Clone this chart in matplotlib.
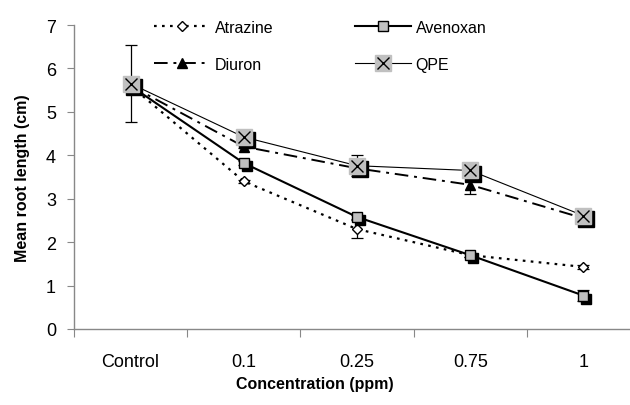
import matplotlib
matplotlib.use("Agg")
import matplotlib.pyplot as plt
import matplotlib.transforms as mtransforms
from matplotlib.legend_handler import HandlerTuple
import numpy as np

plt.rcParams["font.family"] = ["Liberation Sans", "DejaVu Sans"]

# categories and values
categories = ["Control", "0.1", "0.25", "0.75", "1"]
atrazine = [5.6, 3.4, 2.3, 1.7, 1.43]
avenoxan = [5.6, 3.82, 2.58, 1.7, 0.77]
diuron = [5.6, 4.2, 3.7, 3.32, 2.55]
qpe = [5.65, 4.42, 3.76, 3.65, 2.61]

# standard errors (only the visible ones)
atrazine_err = [0.0, 0.04, 0.2, 0.04, 0.05]
avenoxan_err = [0.0, 0.04, 0.05, 0.04, 0.13]
diuron_err = [0.0, 0.04, 0.08, 0.22, 0.04]
qpe_err = [0.88, 0.04, 0.24, 0.04, 0.04]

fig = plt.figure(figsize=(6.3, 4.06), dpi=100)
ax = fig.add_axes([74 / 630, 1 - 330 / 406, 566 / 630, 304 / 406])
x = np.arange(len(categories))

gray = "#c0c0c0"
shadow = mtransforms.offset_copy(ax.transData, fig=fig, x=2.2, y=-2.2, units="points")

err_kw = dict(fmt="none", ecolor="black", elinewidth=0.9, capsize=4.5, capthick=0.9, zorder=2)
ax.errorbar(x, atrazine, yerr=atrazine_err, **err_kw)
ax.errorbar(x, avenoxan, yerr=avenoxan_err, **err_kw)
ax.errorbar(x, diuron, yerr=diuron_err, **err_kw)
ax.errorbar(x, qpe, yerr=qpe_err, **err_kw)

# Atrazine
l_atr, = ax.plot(x, atrazine, linestyle=(0, (1.2, 2.4)), color="black", lw=1.6,
                 marker="D", markersize=5.5, mfc="white", mec="black", mew=1.0, zorder=3)
# Avenoxan (with black shadow)
ax.plot(x, avenoxan, linestyle="none", marker="s", markersize=7, color="black",
        transform=shadow, zorder=3)
l_ave, = ax.plot(x, avenoxan, linestyle="-", color="black", lw=1.5,
                 marker="s", markersize=7, mfc=gray, mec="black", mew=1.0, zorder=4)
# Diuron
l_diu, = ax.plot(x, diuron, linestyle=(0, (7, 3, 1.5, 3)), color="black", lw=1.4,
                 marker="^", markersize=7, mfc="black", mec="black", zorder=5)
# QPE (gray square with X and black shadow)
ax.plot(x, qpe, linestyle="none", marker="s", markersize=11, color="black",
        transform=shadow, zorder=5)
l_qpe, = ax.plot(x, qpe, linestyle="-", color="black", lw=0.8,
                 marker="s", markersize=11, mfc=gray, mec=gray, zorder=6)
l_qx, = ax.plot(x, qpe, linestyle="none", marker="x", markersize=9, mec="black",
                mew=1.0, zorder=7)

ax.set_ylim(0, 7)
ax.set_yticks(range(8))
ax.set_xlim(-0.5, len(categories) - 0.5)
ax.set_xticks(np.arange(-0.5, len(categories), 1.0))
ax.set_xticklabels([])
ax.set_xticks(x, minor=True)
ax.set_xticklabels(categories, minor=True)
ax.tick_params(axis="x", which="minor", length=0, pad=17, labelsize=13)
ax.tick_params(axis="x", which="major", length=6, color="#888888", direction="out")
ax.tick_params(axis="y", length=5, color="#888888", labelsize=13, pad=8)

for side in ["top", "right"]:
    ax.spines[side].set_visible(False)
for side in ["left", "bottom"]:
    ax.spines[side].set_color("#888888")
    ax.spines[side].set_linewidth(1.0)

ax.set_ylabel("Mean root length (cm)", fontsize=11.5, fontweight="bold")
ax.yaxis.set_label_coords(-0.078, 0.5)
ax.set_xlabel("Concentration (ppm)", fontsize=11.5, fontweight="bold")
ax.xaxis.set_label_coords(0.426, -0.155)

fig.legend([l_atr, l_diu, l_ave, (l_qpe, l_qx)],
           ["Atrazine", "Diuron", "Avenoxan", "QPE"],
           handler_map={tuple: HandlerTuple(ndivide=1)},
           ncol=2, loc="upper left", bbox_to_anchor=(154 / 630, 1 - 21 / 406),
           frameon=False, fontsize=11.5, handlelength=3.5, handletextpad=0.3,
           columnspacing=5.1, labelspacing=1.35, borderpad=0, borderaxespad=0)

fig.savefig("out.png", dpi=100)
